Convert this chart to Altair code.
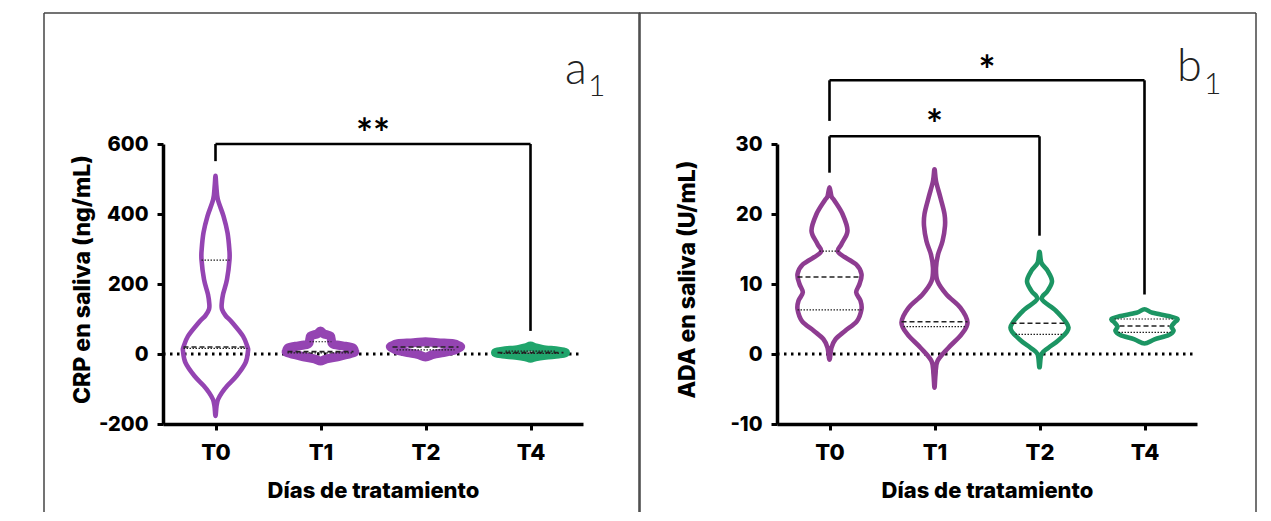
import json
import altair as alt
import pandas as pd

# ---------------- data ----------------
CATS = ["T0", "T1", "T2", "T4"]
STEP_PX = 105.0  # category step used to turn read half-widths into x units

# Panel a1 - CRP (ng/mL): violin outlines (value, half width)
A_T0_Y = [509, 480, 442, 394, 347, 300, 270, 213, 170, 143, 128, 110, 90, 51, 20, 8.6, -25, -63, -90, -110, -130, -149, -177]
A_T0_W = [0, 0.8, 2.3, 8, 12, 13.8, 14, 11.5, 7.5, 6.2, 6.5, 10, 16.7, 27.5, 32, 32.5, 30, 21, 12, 6.5, 2.5, 1, 0]
A_T1_Y = [66, 58, 51, 37, 28, 22, 18, 8, 3.8, -5.7, -14, -20]
A_T1_W = [0, 3, 10, 11, 13, 25, 32, 34, 33, 20, 6, 0]
A_T2_Y = [35, 32, 29.5, 24, 20, 14, 10.5, 4, -1, -8.6]
A_T2_W = [0, 12, 28, 33, 35, 31, 28, 18, 8, 0]
A_T4_Y = [23, 18, 13.3, 8, 3.8, 0, -3.8, -8, -12]
A_T4_W = [0, 4, 12, 28, 35, 28, 15, 5, 0]

# quartile lines (category, value, half width, kind: m = median, q = quartile)
A_Q_CAT = [0, 0, 0, 1, 1, 1, 2, 2, 3, 3, 3]
A_Q_Y = [268, 20, 16, 35, 6.7, 3, 20, 12, 8, 3.8, 2]
A_Q_W = [14, 32, 32, 11, 33, 33, 33, 29, 25, 33, 30]
A_Q_KIND = ["q", "m", "q", "q", "m", "q", "m", "q", "q", "m", "q"]

# Panel b1 - ADA (U/mL)
B_T0_Y = [23.8, 22.5, 21.9, 20, 17.6, 15.7, 14.5, 12.8, 11.4, 10, 8.8, 7.6, 6.4, 4.7, 3.3, 2.1, 0.9, -0.8]
B_T0_W = [0, 2, 5, 13, 18, 12, 9, 26.7, 32, 30, 26.7, 31, 32, 27.5, 15.5, 6, 2, 0]
B_T1_Y = [26.4, 24.7, 22.3, 20, 18.3, 16.1, 14.2, 12.3, 10.4, 8.5, 6.6, 4.5, 2.8, 0.9, -1, -2.9, -4.8]
B_T1_W = [0, 1.5, 6, 10, 10.5, 8, 3.5, 1.5, 3, 12, 26, 33, 27, 14, 3, 1, 0]
B_T2_Y = [14.6, 13, 11.9, 10.4, 9, 7.8, 6.1, 3.8, 2.1, 0.9, 0, -1.9]
B_T2_W = [0, 2, 8, 12.5, 8, 2.5, 17, 29, 20, 9, 2, 0]
B_T4_Y = [6.4, 5.9, 5.4, 5.0, 4.5, 3.9, 3.3, 2.7, 2.1, 1.5]
B_T4_W = [0, 8, 25, 33, 30, 27, 29, 24, 10, 0]

B_Q_CAT = [0, 0, 0, 1, 1, 2, 2, 3, 3, 3]
B_Q_Y = [14.7, 11.0, 6.3, 4.6, 3.9, 4.4, 2.8, 5.0, 4.0, 3.1]
B_Q_W = [10, 32, 32, 33, 31, 28, 24, 30, 25, 26]
B_Q_KIND = ["q", "m", "q", "m", "q", "m", "q", "q", "m", "q"]

# significance brackets: from, to, level, left leg end, right leg end, label, label y
A_BR = [(0, 3, 600, 551, 66, "**", 651)]
B_BR = [(0, 2, 31.1, 25.9, 16.9, "*", 33.8), (0, 3, 39.1, 33.3, 8.5, "*", 41.6)]

PURPLE_A = "#9444b2"
PURPLE_B = "#8e3c91"
GREEN_A = "#20a56c"
GREEN_B = "#1c9563"

FONT = "Inter"
W_BOLD = 800


def violin_df(specs):
    """Closed outline: right side top->bottom, then left side bottom->top."""
    rows = []
    for vid, (idx, ys, ws, col, filled) in enumerate(specs):
        seq = 0
        for y, w in zip(ys, ws):
            rows.append({"vid": vid, "seq": seq, "y": y, "x": idx + w / STEP_PX,
                         "color": col, "filled": filled})
            seq += 1
        for y, w in list(zip(ys, ws))[-2:0:-1]:
            rows.append({"vid": vid, "seq": seq, "y": y, "x": idx - w / STEP_PX,
                         "color": col, "filled": filled})
            seq += 1
    return pd.DataFrame(rows)


def quart_df(cats, ys, ws, kinds):
    return pd.DataFrame({"y": ys,
                         "lo": [c - w / STEP_PX for c, w in zip(cats, ws)],
                         "hi": [c + w / STEP_PX for c, w in zip(cats, ws)],
                         "kind": kinds})


def panel(vdf, qdf, brackets, ydom, yvals, ytitle, title_x, letter, letter_pos, frame):
    xscale = alt.Scale(domain=[-0.5, len(CATS) - 0.5], nice=False, zero=False)
    yscale = alt.Scale(domain=ydom, nice=False, zero=False)
    label_expr = json.dumps(CATS) + "[datum.value]"
    xaxis = alt.Axis(values=list(range(len(CATS))), labelExpr=label_expr,
                     title="Días de tratamiento", grid=False,
                     labelFont=FONT, labelFontSize=22, labelFontWeight=W_BOLD, labelColor="black",
                     labelPadding=12, tickSize=6, tickWidth=3, tickColor="black",
                     domainColor="black", domainWidth=3.5,
                     titleFont=FONT, titleFontSize=22, titleFontWeight=W_BOLD, titleColor="black",
                     titleY=66, titleBaseline="middle")
    yaxis = alt.Axis(values=yvals, title=ytitle, grid=False,
                     labelExpr="datum.value < 0 ? '-' + abs(datum.value) : '' + datum.value",
                     labelFont=FONT, labelFontSize=20, labelFontWeight=W_BOLD, labelColor="black",
                     labelPadding=9, tickSize=6, tickWidth=3, tickColor="black",
                     domainColor="black", domainWidth=3.5,
                     titleFont=FONT, titleFontSize=23, titleFontWeight=W_BOLD, titleColor="black",
                     titleX=title_x, titleY=135, titleBaseline="middle", titleAlign="center", titleAngle=-90)

    base_zero = pd.DataFrame({"y": [0], "lo": [-0.5], "hi": [len(CATS) - 0.5]})
    zero = alt.Chart(base_zero).mark_rule(color="black", strokeWidth=3, strokeDash=[2.5, 4.5]).encode(
        x=alt.X("lo:Q", scale=xscale, axis=xaxis),
        x2="hi:Q",
        y=alt.Y("y:Q", scale=yscale, axis=yaxis),
    )

    # thick stroke for the very flat violins (their outline reads as solid)
    fills = alt.Chart(vdf[vdf.filled]).mark_line(interpolate="cardinal-closed", strokeWidth=9,
                                                 strokeJoin="round").encode(
        y=alt.Y("y:Q", scale=yscale),
        x=alt.X("x:Q", scale=xscale),
        stroke=alt.Stroke("color:N", scale=None),
        detail="vid:N",
        order=alt.Order("seq:Q"),
    )

    violins = alt.Chart(vdf).mark_line(interpolate="cardinal-closed", strokeWidth=4.6,
                                       strokeJoin="round").encode(
        y=alt.Y("y:Q", scale=yscale),
        x=alt.X("x:Q", scale=xscale),
        stroke=alt.Stroke("color:N", scale=None),
        detail="vid:N",
        order=alt.Order("seq:Q"),
    )

    med = alt.Chart(qdf[qdf.kind == "m"]).mark_rule(color="#222", strokeWidth=1.6, strokeDash=[5, 3]).encode(
        x=alt.X("lo:Q", scale=xscale), x2="hi:Q", y=alt.Y("y:Q", scale=yscale))
    qrt = alt.Chart(qdf[qdf.kind == "q"]).mark_rule(color="#222", strokeWidth=1.2, strokeDash=[1.5, 1.5]).encode(
        x=alt.X("lo:Q", scale=xscale), x2="hi:Q", y=alt.Y("y:Q", scale=yscale))

    bdf = pd.DataFrame([{"a": a, "b": b, "lvl": l, "la": la, "lb": lb, "lab": t, "ty": ty,
                         "mid": (a + b) / 2} for a, b, l, la, lb, t, ty in brackets])
    bh = alt.Chart(bdf).mark_rule(color="black", strokeWidth=2.6).encode(
        x=alt.X("a:Q", scale=xscale), x2="b:Q", y=alt.Y("lvl:Q", scale=yscale))
    bl = alt.Chart(bdf).mark_rule(color="black", strokeWidth=2.6).encode(
        x=alt.X("a:Q", scale=xscale), y=alt.Y("lvl:Q", scale=yscale), y2="la:Q")
    br = alt.Chart(bdf).mark_rule(color="black", strokeWidth=2.6).encode(
        x=alt.X("b:Q", scale=xscale), y=alt.Y("lvl:Q", scale=yscale), y2="lb:Q")
    bt = alt.Chart(bdf).mark_text(font="Lato", fontSize=40, fontWeight="bold", color="black",
                                  baseline="alphabetic", align="center", dy=22).encode(
        x=alt.X("mid:Q", scale=xscale), y=alt.Y("ty:Q", scale=yscale), text="lab:N")

    one = pd.DataFrame({"k": [0]})
    lx, ly, sx, sy = letter_pos
    let_main = alt.Chart(one).mark_text(font="Lato", fontWeight=300, fontSize=45, color="#222",
                                        align="left", baseline="alphabetic", text=letter).encode(
        x=alt.value(lx), y=alt.value(ly))
    let_sub = alt.Chart(one).mark_text(font="Lato", fontWeight=300, fontSize=30, color="#222",
                                       align="left", baseline="alphabetic", text="1").encode(
        x=alt.value(sx), y=alt.value(sy))

    fl, fr, ft, fb = frame
    frames = [
        alt.Chart(one).mark_rule(color="#444", strokeWidth=1.5).encode(
            x=alt.value(fl), x2=alt.value(fr), y=alt.value(ft)),
        alt.Chart(one).mark_rule(color="#444", strokeWidth=1.5).encode(
            x=alt.value(fr), y=alt.value(ft), y2=alt.value(fb)),
        alt.Chart(one).mark_rule(color="#444", strokeWidth=1.5).encode(
            x=alt.value(fl), y=alt.value(ft), y2=alt.value(fb)),
    ]

    return alt.layer(zero, fills, violins, med, qrt, bh, bl, br, bt, let_main, let_sub, *frames).properties(
        width=420, height=280, view=alt.ViewBackground(stroke="transparent", strokeWidth=0))


va = violin_df([(0, A_T0_Y, A_T0_W, PURPLE_A, False), (1, A_T1_Y, A_T1_W, PURPLE_A, True),
                (2, A_T2_Y, A_T2_W, PURPLE_A, True), (3, A_T4_Y, A_T4_W, GREEN_A, True)])
vb = violin_df([(0, B_T0_Y, B_T0_W, PURPLE_B, False), (1, B_T1_Y, B_T1_W, PURPLE_B, False),
                (2, B_T2_Y, B_T2_W, GREEN_B, False), (3, B_T4_Y, B_T4_W, GREEN_B, False)])
qa = quart_df(A_Q_CAT, A_Q_Y, A_Q_W, A_Q_KIND)
qb = quart_df(B_Q_CAT, B_Q_Y, B_Q_W, B_Q_KIND)

pa = panel(va, qa, A_BR, [-200, 600], [-200, 0, 200, 400, 600], "CRP en saliva (ng/mL)",
           -81, "a", (402, -60, 425, -48), (-119, 477, -131, 368))
pb = panel(vb, qb, B_BR, [-10, 30], [-10, 0, 10, 20, 30], "ADA en saliva (U/mL)",
           -90, "b", (400, -63, 427, -50), (-138, 479, -131, 368))

chart = alt.hconcat(pa, pb, spacing=-3).properties(
    padding={"left": 35, "top": 4, "right": 0, "bottom": 0}
).configure_view(stroke="transparent", strokeWidth=0).configure(background="white")

chart.save("out.html", embed_options={"renderer": "svg", "actions": False})
